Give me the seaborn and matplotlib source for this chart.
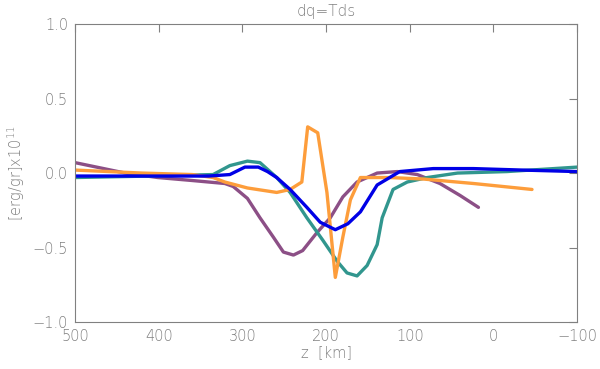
import matplotlib
matplotlib.use("Agg")
import matplotlib.pyplot as plt
import numpy as np
import pandas as pd
import seaborn as sns

# data (z in km, value in erg/gr x1e11)
blue_z = [500, 340, 315, 297, 281, 270, 259, 243, 223, 207, 189, 174, 159, 139, 124, 112, 72, 24, -35, -100]
blue_v = [-0.02, -0.02, -0.01, 0.04, 0.04, 0.01, -0.03, -0.11, -0.23, -0.33, -0.38, -0.34, -0.26, -0.08, -0.03, 0.01, 0.03, 0.03, 0.02, 0.01]

teal_z = [500, 410, 335, 315, 294, 279, 259, 243, 223, 204, 187, 175, 163, 151, 139, 133, 120, 103, 79, 43, -16, -100]
teal_v = [-0.03, -0.02, -0.01, 0.05, 0.08, 0.07, -0.03, -0.13, -0.30, -0.45, -0.59, -0.67, -0.69, -0.62, -0.48, -0.30, -0.11, -0.06, -0.03, 0.0, 0.01, 0.04]

purple_z = [500, 440, 401, 360, 321, 311, 294, 279, 263, 251, 239, 228, 211, 195, 180, 163, 139, 115, 91, 64, 40, 18]
purple_v = [0.07, 0.0, -0.03, -0.05, -0.07, -0.09, -0.17, -0.30, -0.43, -0.53, -0.55, -0.52, -0.40, -0.30, -0.16, -0.06, 0.0, 0.01, -0.01, -0.07, -0.15, -0.23]

orange_z = [500, 420, 360, 335, 321, 294, 259, 243, 229, 222, 210, 199, 189, 180, 171, 159, 151, 124, 84, 24, -46]
orange_v = [0.02, 0.0, -0.01, -0.03, -0.06, -0.10, -0.13, -0.11, -0.06, 0.31, 0.27, -0.13, -0.70, -0.43, -0.18, -0.03, -0.03, -0.03, -0.04, -0.07, -0.11]

series = {
    "purple": (purple_z, purple_v, "#8c4f86"),
    "teal": (teal_z, teal_v, "#31968e"),
    "orange": (orange_z, orange_v, "#fd9d3b"),
    "blue": (blue_z, blue_v, "#0000e6"),
}

grey = "#808080"
sns.set_style("white")
plt.rcParams["font.family"] = ["DejaVu Sans"]
plt.rcParams["font.weight"] = "light"

fig = plt.figure(figsize=(6, 3.69), dpi=100)
ax = fig.add_axes([0.125, 0.127, 0.837, 0.808])

for name, (z, v, col) in series.items():
    df = pd.DataFrame({"z": z, "v": v})
    sns.lineplot(data=df, x="z", y="v", ax=ax, color=col, lw=2.4,
                 sort=False, estimator=None)

ax.set_xlim(500, -100)
ax.set_ylim(-1.0, 1.0)
ax.set_xticks([500, 400, 300, 200, 100, 0, -100])
ax.set_xticklabels(["500", "400", "300", "200", "100", "0", "\u2212100"])
ax.set_yticks([-1.0, -0.5, 0.0, 0.5, 1.0])
ax.set_yticklabels(["\u22121.0", "\u22120.5", "0.0", "0.5", "1.0"])
ax.tick_params(direction="in", length=6, width=0.8, colors=grey,
               labelcolor=grey, labelsize=10.5, top=True, right=True, pad=5)
for sp in ax.spines.values():
    sp.set_color(grey)
    sp.set_linewidth(0.8)

ax.set_title("dq=Tds", color=grey, fontsize=11, pad=6, fontweight="light")
ax.set_xlabel("z  [km]", color=grey, fontsize=10.5, labelpad=1, fontweight="light")
ax.set_ylabel("[erg/gr]x10$^{11}$", color=grey, fontsize=10.5, labelpad=4,
              fontweight="light")

fig.savefig("out.png", dpi=100)
